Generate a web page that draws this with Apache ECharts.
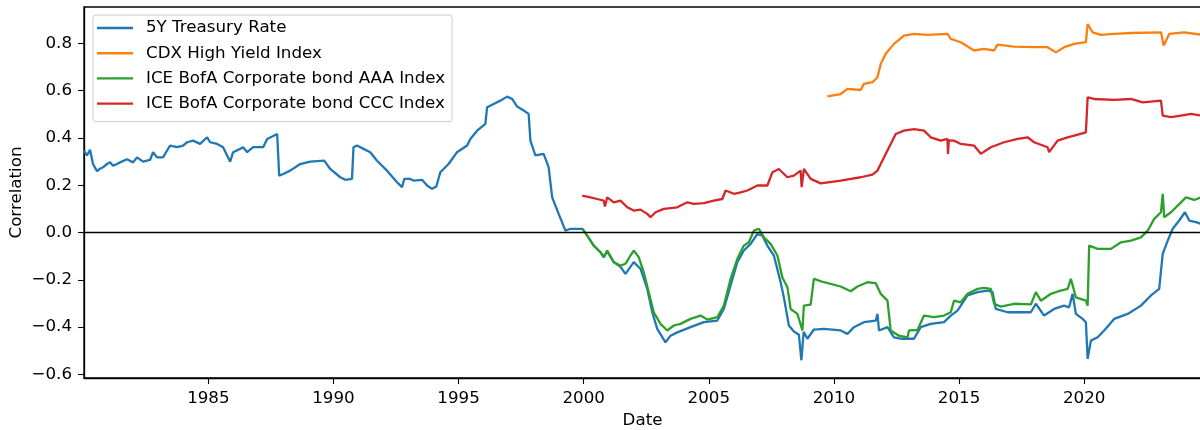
<!DOCTYPE html>
<html>
<head>
<meta charset="utf-8">
<title>Rolling correlation</title>
<script src="https://cdn.jsdelivr.net/npm/echarts@6/dist/echarts.min.js"></script>
<style>
  html, body { margin: 0; padding: 0; background: #ffffff; }
  #chart { width: 1200px; height: 430px; }
</style>
</head>
<body>
<div id="chart"></div>
<script>
// Rolling correlations, dates as decimal years
const seriesNames = [
  '5Y Treasury Rate',
  'CDX High Yield Index',
  'ICE BofA Corporate bond AAA Index',
  'ICE BofA Corporate bond CCC Index'
];

const treasury = [
  [1980.03, 0.347], [1980.15, 0.326], [1980.27, 0.350], [1980.39, 0.290], [1980.55, 0.260],
  [1980.67, 0.270], [1980.79, 0.276], [1980.95, 0.290], [1981.07, 0.297], [1981.19, 0.283],
  [1981.35, 0.290], [1981.47, 0.297], [1981.75, 0.310], [1981.99, 0.297], [1982.15, 0.318],
  [1982.39, 0.300], [1982.67, 0.307], [1982.79, 0.340], [1982.95, 0.318], [1983.19, 0.318],
  [1983.35, 0.347], [1983.47, 0.368], [1983.75, 0.361], [1983.99, 0.368], [1984.15, 0.382],
  [1984.39, 0.389], [1984.67, 0.375], [1984.95, 0.403], [1985.07, 0.382], [1985.35, 0.375],
  [1985.59, 0.361], [1985.87, 0.300], [1985.99, 0.340], [1986.27, 0.354], [1986.39, 0.361],
  [1986.55, 0.340], [1986.79, 0.361], [1987.19, 0.361], [1987.35, 0.396], [1987.75, 0.417],
  [1987.83, 0.241], [1987.99, 0.248], [1988.27, 0.262], [1988.67, 0.290], [1989.07, 0.300],
  [1989.63, 0.304], [1989.87, 0.269], [1990.27, 0.234], [1990.47, 0.223], [1990.74, 0.227],
  [1990.80, 0.361], [1990.94, 0.368], [1991.20, 0.354], [1991.47, 0.340], [1991.74, 0.304],
  [1992.14, 0.262], [1992.54, 0.213], [1992.74, 0.192], [1992.83, 0.227], [1993.07, 0.227],
  [1993.20, 0.220], [1993.54, 0.223], [1993.74, 0.199], [1993.94, 0.185], [1994.11, 0.195],
  [1994.27, 0.255], [1994.60, 0.290], [1994.94, 0.340], [1995.34, 0.368], [1995.47, 0.396],
  [1995.74, 0.431], [1996.07, 0.460], [1996.14, 0.530], [1996.40, 0.544], [1996.67, 0.558],
  [1996.94, 0.575], [1997.14, 0.565], [1997.34, 0.533], [1997.60, 0.516], [1997.80, 0.502],
  [1997.87, 0.389], [1998.07, 0.326], [1998.40, 0.333], [1998.60, 0.276], [1998.74, 0.149],
  [1999.00, 0.079], [1999.27, 0.008], [1999.47, 0.016], [1999.87, 0.016], [1999.95, 0.016],
  [2000.14, -0.013], [2000.40, -0.055], [2000.67, -0.083], [2000.80, -0.104], [2000.94, -0.080],
  [2001.20, -0.125], [2001.47, -0.145], [2001.67, -0.175], [2002.00, -0.125], [2002.27, -0.153],
  [2002.54, -0.238], [2002.74, -0.337], [2002.94, -0.407], [2003.27, -0.464], [2003.47, -0.436],
  [2003.74, -0.422], [2004.27, -0.400], [2004.80, -0.379], [2005.34, -0.372], [2005.60, -0.323],
  [2005.87, -0.224], [2006.14, -0.125], [2006.40, -0.076], [2006.67, -0.048], [2006.94, -0.006],
  [2007.14, -0.013], [2007.34, -0.055], [2007.60, -0.097], [2007.87, -0.210], [2008.00, -0.274],
  [2008.20, -0.393], [2008.40, -0.418], [2008.60, -0.432], [2008.70, -0.540], [2008.79, -0.420],
  [2008.94, -0.449], [2009.20, -0.410], [2009.60, -0.407], [2010.27, -0.414], [2010.54, -0.429],
  [2010.80, -0.400], [2011.20, -0.379], [2011.67, -0.372], [2011.74, -0.344], [2011.80, -0.414],
  [2012.14, -0.400], [2012.40, -0.443], [2012.67, -0.449], [2013.20, -0.449], [2013.47, -0.400],
  [2013.87, -0.386], [2014.40, -0.379], [2014.67, -0.351], [2014.94, -0.330], [2015.34, -0.266],
  [2015.74, -0.252], [2016.14, -0.245], [2016.34, -0.252], [2016.47, -0.323], [2016.94, -0.337],
  [2017.47, -0.337], [2017.87, -0.337], [2018.07, -0.301], [2018.40, -0.351], [2018.80, -0.323],
  [2019.20, -0.309], [2019.40, -0.316], [2019.54, -0.259], [2019.67, -0.344], [2019.94, -0.365],
  [2020.07, -0.379], [2020.14, -0.534], [2020.27, -0.457], [2020.54, -0.443], [2020.80, -0.414],
  [2021.20, -0.365], [2021.74, -0.344], [2022.27, -0.309], [2022.67, -0.266], [2023.00, -0.238],
  [2023.14, -0.090], [2023.34, -0.034], [2023.54, 0.016], [2023.80, 0.051], [2024.03, 0.086],
  [2024.20, 0.051], [2024.47, 0.044], [2024.67, 0.037]
];

const cdxHighYield = [
  [2009.74, 0.576], [2010.27, 0.586], [2010.54, 0.608], [2011.07, 0.603], [2011.20, 0.629],
  [2011.54, 0.636], [2011.74, 0.657], [2011.87, 0.713], [2012.07, 0.756], [2012.40, 0.798],
  [2012.80, 0.833], [2013.20, 0.840], [2013.74, 0.836], [2014.54, 0.840], [2014.67, 0.819],
  [2015.07, 0.805], [2015.60, 0.770], [2016.00, 0.777], [2016.40, 0.770], [2016.54, 0.795],
  [2017.20, 0.786], [2018.00, 0.784], [2018.54, 0.784], [2018.87, 0.762], [2019.20, 0.784],
  [2019.60, 0.798], [2020.07, 0.805], [2020.14, 0.882], [2020.34, 0.847], [2020.67, 0.836],
  [2021.20, 0.840], [2021.87, 0.844], [2023.07, 0.847], [2023.18, 0.791], [2023.40, 0.840],
  [2023.99, 0.847], [2024.67, 0.837]
];

const corpAAA = [
  [1999.95, 0.016], [2000.14, -0.013], [2000.40, -0.055], [2000.67, -0.083], [2000.80, -0.104],
  [2000.94, -0.076], [2001.20, -0.125], [2001.47, -0.140], [2001.67, -0.132], [2001.87, -0.097],
  [2002.00, -0.076], [2002.20, -0.104], [2002.40, -0.168], [2002.60, -0.252], [2002.80, -0.337],
  [2003.07, -0.386], [2003.34, -0.414], [2003.60, -0.393], [2003.87, -0.386], [2004.27, -0.365],
  [2004.67, -0.351], [2004.94, -0.368], [2005.34, -0.358], [2005.60, -0.309], [2005.87, -0.196],
  [2006.14, -0.111], [2006.40, -0.055], [2006.60, -0.041], [2006.80, 0.008], [2007.00, 0.016],
  [2007.20, -0.020], [2007.47, -0.048], [2007.74, -0.097], [2007.94, -0.190], [2008.14, -0.231],
  [2008.27, -0.323], [2008.54, -0.344], [2008.74, -0.414], [2008.80, -0.309], [2009.07, -0.305],
  [2009.20, -0.196], [2009.60, -0.210], [2010.27, -0.228], [2010.67, -0.248], [2010.94, -0.228],
  [2011.34, -0.210], [2011.67, -0.214], [2011.87, -0.259], [2012.14, -0.288], [2012.27, -0.414],
  [2012.60, -0.436], [2012.94, -0.443], [2013.00, -0.414], [2013.34, -0.412], [2013.60, -0.351],
  [2014.00, -0.358], [2014.40, -0.351], [2014.67, -0.337], [2014.80, -0.288], [2015.07, -0.295],
  [2015.34, -0.259], [2015.74, -0.238], [2016.00, -0.234], [2016.27, -0.238], [2016.40, -0.301],
  [2016.67, -0.313], [2017.20, -0.301], [2017.87, -0.304], [2018.07, -0.252], [2018.27, -0.288],
  [2018.67, -0.259], [2019.07, -0.245], [2019.34, -0.238], [2019.47, -0.196], [2019.67, -0.274],
  [2020.07, -0.288], [2020.14, -0.309], [2020.20, -0.055], [2020.54, -0.069], [2021.07, -0.069],
  [2021.47, -0.041], [2021.87, -0.034], [2022.27, -0.020], [2022.54, 0.008], [2022.80, 0.058],
  [2023.07, 0.086], [2023.14, 0.164], [2023.20, 0.065], [2023.47, 0.086], [2023.87, 0.128],
  [2024.07, 0.149], [2024.40, 0.138], [2024.67, 0.149]
];

const corpCCC = [
  [1999.94, 0.156], [2000.27, 0.149], [2000.54, 0.142], [2000.80, 0.135], [2000.85, 0.110],
  [2000.94, 0.149], [2001.20, 0.128], [2001.47, 0.135], [2001.74, 0.107], [2002.00, 0.093],
  [2002.27, 0.097], [2002.54, 0.079], [2002.67, 0.065], [2002.87, 0.086], [2003.20, 0.100],
  [2003.74, 0.107], [2004.14, 0.128], [2004.40, 0.121], [2004.80, 0.125], [2005.20, 0.135],
  [2005.54, 0.142], [2005.67, 0.178], [2006.00, 0.164], [2006.27, 0.170], [2006.54, 0.178],
  [2006.94, 0.199], [2007.34, 0.199], [2007.54, 0.255], [2007.80, 0.269], [2008.14, 0.234],
  [2008.40, 0.241], [2008.67, 0.262], [2008.71, 0.192], [2008.80, 0.269], [2009.07, 0.227],
  [2009.47, 0.208], [2010.27, 0.220], [2011.07, 0.234], [2011.54, 0.245], [2011.74, 0.262],
  [2011.87, 0.290], [2012.14, 0.347], [2012.47, 0.417], [2012.80, 0.431], [2013.20, 0.438],
  [2013.60, 0.431], [2013.87, 0.403], [2014.27, 0.389], [2014.54, 0.396], [2014.56, 0.333],
  [2014.59, 0.390], [2014.80, 0.389], [2015.07, 0.375], [2015.60, 0.368], [2015.87, 0.333],
  [2016.27, 0.361], [2016.80, 0.382], [2017.34, 0.396], [2017.74, 0.403], [2018.00, 0.382],
  [2018.54, 0.361], [2018.60, 0.340], [2018.94, 0.389], [2019.34, 0.403], [2019.60, 0.410],
  [2020.07, 0.424], [2020.14, 0.572], [2020.40, 0.565], [2021.20, 0.561], [2021.87, 0.565],
  [2022.34, 0.551], [2023.07, 0.558], [2023.14, 0.495], [2023.47, 0.488], [2023.87, 0.495],
  [2024.27, 0.502], [2024.67, 0.495]
];

const xTickYears = [1985, 1990, 1995, 2000, 2005, 2010, 2015, 2020];
const yTicks = [-0.6, -0.4, -0.2, 0.0, 0.2, 0.4, 0.6, 0.8];

const colors = ['#1f77b4', '#ff7f0e', '#2ca02c', '#d62728'];
const seriesData = [treasury, cdxHighYield, corpAAA, corpCCC];
const FONT = 'DejaVu Sans';
const FONT_SIZE = 16.7;

const chart = echarts.init(document.getElementById('chart'), null, { renderer: 'canvas' });

const series = seriesData.map((data, i) => ({
  name: seriesNames[i],
  type: 'line',
  data: data,
  showSymbol: false,
  symbol: 'none',
  smooth: false,
  color: colors[i],
  lineStyle: { width: 2.3, color: colors[i] },
  animation: false
}));

// horizontal reference line at zero
series[0].markLine = {
  silent: true,
  symbol: ['none', 'none'],
  label: { show: false },
  lineStyle: { color: '#000000', width: 1.4, type: 'solid' },
  data: [{ yAxis: 0 }],
  animation: false
};

chart.setOption({
  animation: false,
  backgroundColor: '#ffffff',
  grid: {
    left: 84, top: 7, width: 1117, height: 371,
    outerBoundsMode: 'none',
    containLabel: false,
    show: true, borderColor: '#000000', borderWidth: 1.3, backgroundColor: 'transparent'
  },
  legend: {
    orient: 'vertical',
    left: 93, top: 15,
    align: 'left',
    icon: 'rect',
    itemWidth: 36, itemHeight: 2.4,
    itemGap: 7.2,
    padding: [4, 7, 9, 4],
    borderColor: '#cccccc', borderWidth: 1, borderRadius: 3,
    backgroundColor: 'rgba(255,255,255,0.8)',
    textStyle: { fontFamily: FONT, fontSize: FONT_SIZE, color: '#000000', lineHeight: 18, padding: [0, 0, 0, 8] },
    data: seriesNames
  },
  xAxis: {
    type: 'value',
    min: 1980.03, max: 2024.67,
    name: 'Date',
    nameLocation: 'middle',
    nameGap: 31,
    nameTextStyle: { fontFamily: FONT, fontSize: FONT_SIZE, color: '#000000' },
    splitLine: { show: false },
    axisLine: { show: true, onZero: false, lineStyle: { color: '#000000', width: 1.3 } },
    axisTick: { show: true, length: 6, customValues: xTickYears, lineStyle: { color: '#000000', width: 1.1 } },
    axisLabel: {
      customValues: xTickYears,
      margin: 12,
      fontFamily: FONT, fontSize: FONT_SIZE, color: '#000000',
      formatter: v => String(Math.round(v))
    }
  },
  yAxis: {
    type: 'value',
    min: -0.615, max: 0.954,
    name: 'Correlation',
    nameLocation: 'middle',
    nameGap: 59,
    nameMoveOverlap: false,
    nameTextStyle: { fontFamily: FONT, fontSize: FONT_SIZE, color: '#000000' },
    splitLine: { show: false },
    axisLine: { show: true, lineStyle: { color: '#000000', width: 1.3 } },
    axisTick: { show: true, length: 6, customValues: yTicks, lineStyle: { color: '#000000', width: 1.1 } },
    axisLabel: {
      customValues: yTicks,
      margin: 12,
      fontFamily: FONT, fontSize: FONT_SIZE, color: '#000000',
      formatter: v => (v < -1e-9 ? '\u2212' : '') + Math.abs(v).toFixed(1)
    }
  },
  series: series
});
</script>
</body>
</html>
